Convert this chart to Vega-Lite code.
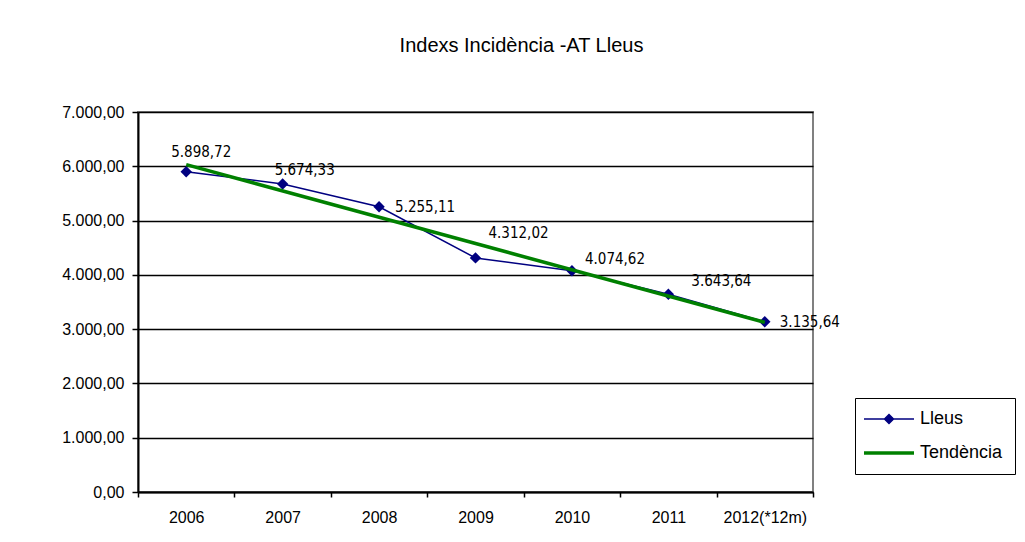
{
  "$schema": "https://vega.github.io/schema/vega-lite/v6.json",
  "width": 675,
  "height": 380,
  "autosize": {"type": "none"},
  "padding": {"left": 138, "top": 112, "right": 212, "bottom": 50},
  "background": "white",
  "config": {
    "locale": {"number": {"decimal": ",", "thousands": ".", "grouping": [3], "currency": ["", " €"]}},
    "font": "Liberation Sans",
    "view": {"stroke": "#808080", "strokeWidth": 2},
    "axis": {"labelColor": "black", "labelFont": "Liberation Sans"}
  },
  "title": {
    "text": "Indexs Incidència -AT Lleus",
    "font": "Liberation Sans",
    "fontSize": 20,
    "fontWeight": "normal",
    "color": "black",
    "anchor": "middle",
    "dx": 46,
    "offset": 48
  },
  "data": {
    "values": [
      {"year": "2006", "serie": "Lleus", "value": 5898.72},
      {"year": "2007", "serie": "Lleus", "value": 5674.33},
      {"year": "2008", "serie": "Lleus", "value": 5255.11},
      {"year": "2009", "serie": "Lleus", "value": 4312.02},
      {"year": "2010", "serie": "Lleus", "value": 4074.62},
      {"year": "2011", "serie": "Lleus", "value": 3643.64},
      {"year": "2012(*12m)", "serie": "Lleus", "value": 3135.64},
      {"year": "2006", "serie": "Tendència", "value": 6030},
      {"year": "2012(*12m)", "serie": "Tendència", "value": 3125}
    ]
  },
  "encoding": {
    "x": {
      "field": "year", "type": "ordinal", "sort": null,
      "scale": {"paddingInner": 0, "paddingOuter": 0},
      "axis": {
        "title": null, "labelAngle": 0, "tickBand": "extent",
        "domainColor": "black", "domainWidth": 2, "tickColor": "black", "tickWidth": 1.5, "tickSize": 5,
        "labelFontSize": 16, "labelPadding": 12
      }
    },
    "y": {
      "field": "value", "type": "quantitative",
      "scale": {"domain": [0, 7000], "nice": false},
      "axis": {
        "title": null, "values": [0, 1000, 2000, 3000, 4000, 5000, 6000, 7000], "format": ",.2f",
        "domainColor": "black", "domainWidth": 2, "tickColor": "black", "tickWidth": 1.5, "tickSize": 6,
        "gridColor": "black", "gridWidth": 1.5, "labelFontSize": 16, "labelPadding": 8
      }
    }
  },
  "layer": [
    {
      "transform": [{"filter": "datum.serie === 'Lleus'"}],
      "mark": {"type": "line", "strokeWidth": 1.5},
      "encoding": {
        "color": {
          "field": "serie", "type": "nominal",
          "scale": {"domain": ["Lleus", "Tendència"], "range": ["#000080", "#008000"]},
          "legend": {
            "title": null, "orient": "none", "legendX": 717, "legendY": 286,
            "strokeColor": "black", "padding": 12, "fillColor": "white",
            "labelFont": "Liberation Sans", "labelFontSize": 18, "labelColor": "black", "labelOffset": 35,
            "symbolSize": 2500, "rowPadding": 16,
            "encode": {
              "symbols": {
                "update": {
                  "shape": {"signal": "datum.value === 'Lleus' ? 'M-0.48,0H1.52M0.52,-0.18L0.7,0L0.52,0.18L0.34,0Z' : 'M-0.48,0H1.52'"},
                  "strokeWidth": {"signal": "datum.value === 'Lleus' ? 1.5 : 3.5"},
                  "fill": {"signal": "datum.value === 'Lleus' ? '#000080' : 'transparent'"}
                }
              }
            }
          }
        }
      }
    },
    {
      "transform": [{"filter": "datum.serie === 'Lleus'"}],
      "mark": {"type": "point", "shape": "diamond", "filled": true, "color": "#000080", "size": 130, "opacity": 1}
    },
    {
      "transform": [{"filter": "datum.serie === 'Tendència'"}],
      "mark": {"type": "line", "strokeWidth": 3.5},
      "encoding": {"color": {"field": "serie", "type": "nominal"}}
    },
    {
      "transform": [{"filter": "datum.serie === 'Lleus' && datum.year === '2006'"}],
      "mark": {"type": "text", "align": "left", "baseline": "middle", "dx": -15, "dy": -20, "font": "DejaVu Sans Condensed, DejaVu Sans", "fontSize": 15, "color": "black"},
      "encoding": {"text": {"field": "value", "type": "quantitative", "format": ",.2f"}}
    },
    {
      "transform": [{"filter": "datum.serie === 'Lleus' && datum.year === '2007'"}],
      "mark": {"type": "text", "align": "left", "baseline": "middle", "dx": -8, "dy": -14, "font": "DejaVu Sans Condensed, DejaVu Sans", "fontSize": 15, "color": "black"},
      "encoding": {"text": {"field": "value", "type": "quantitative", "format": ",.2f"}}
    },
    {
      "transform": [{"filter": "datum.serie === 'Lleus' && datum.year === '2008'"}],
      "mark": {"type": "text", "align": "left", "baseline": "middle", "dx": 16, "dy": 0, "font": "DejaVu Sans Condensed, DejaVu Sans", "fontSize": 15, "color": "black"},
      "encoding": {"text": {"field": "value", "type": "quantitative", "format": ",.2f"}}
    },
    {
      "transform": [{"filter": "datum.serie === 'Lleus' && datum.year === '2009'"}],
      "mark": {"type": "text", "align": "left", "baseline": "middle", "dx": 13, "dy": -25, "font": "DejaVu Sans Condensed, DejaVu Sans", "fontSize": 15, "color": "black"},
      "encoding": {"text": {"field": "value", "type": "quantitative", "format": ",.2f"}}
    },
    {
      "transform": [{"filter": "datum.serie === 'Lleus' && datum.year === '2010'"}],
      "mark": {"type": "text", "align": "left", "baseline": "middle", "dx": 13, "dy": -12, "font": "DejaVu Sans Condensed, DejaVu Sans", "fontSize": 15, "color": "black"},
      "encoding": {"text": {"field": "value", "type": "quantitative", "format": ",.2f"}}
    },
    {
      "transform": [{"filter": "datum.serie === 'Lleus' && datum.year === '2011'"}],
      "mark": {"type": "text", "align": "left", "baseline": "middle", "dx": 23, "dy": -13, "font": "DejaVu Sans Condensed, DejaVu Sans", "fontSize": 15, "color": "black"},
      "encoding": {"text": {"field": "value", "type": "quantitative", "format": ",.2f"}}
    },
    {
      "transform": [{"filter": "datum.serie === 'Lleus' && datum.year === '2012(*12m)'"}],
      "mark": {"type": "text", "align": "left", "baseline": "middle", "dx": 15, "dy": 0, "font": "DejaVu Sans Condensed, DejaVu Sans", "fontSize": 15, "color": "black"},
      "encoding": {"text": {"field": "value", "type": "quantitative", "format": ",.2f"}}
    }
  ]
}
